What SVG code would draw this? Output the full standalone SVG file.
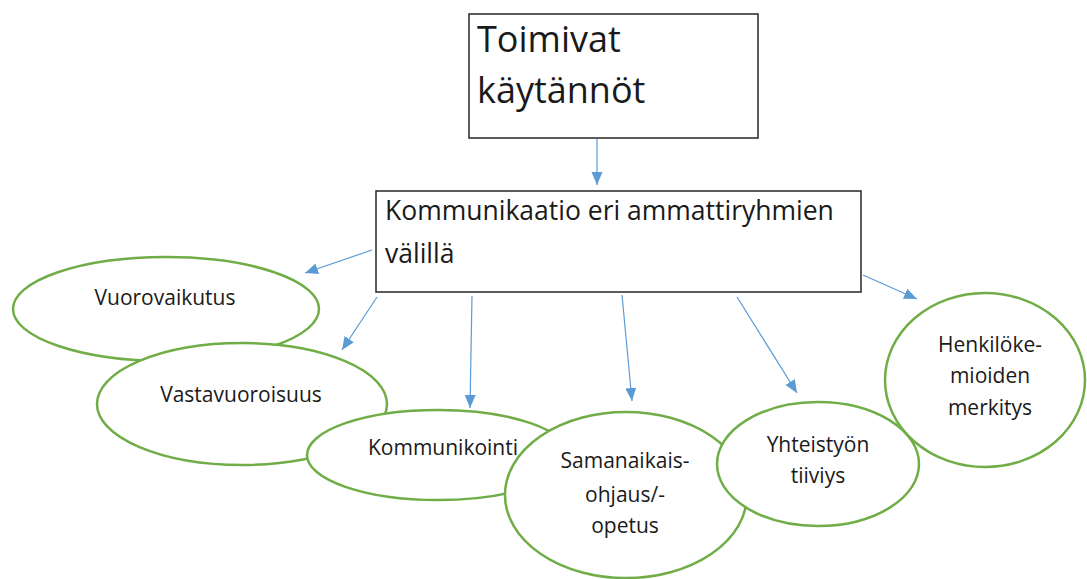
<svg xmlns="http://www.w3.org/2000/svg" width="1087" height="579" viewBox="0 0 1087 579">
<defs>
<style>
.box{fill:#fff;stroke:#262626;stroke-width:1.5}
.ell{fill:#fff;stroke:#70ad47;stroke-width:2.5}
.t{font-family:"Open Sans","Liberation Sans",sans-serif;fill:#1a1a1a}
.e{font-size:21px;text-anchor:middle}
.con{stroke:#5b9bd5;stroke-width:1.2;fill:none;marker-end:url(#ah)}
</style>
<marker id="ah" markerUnits="userSpaceOnUse" markerWidth="13" markerHeight="13" viewBox="0 0 13 13" refX="13" refY="6.5" orient="auto">
<path d="M0,1 L13,6.5 L0,12 Z" fill="#5b9bd5"/>
</marker>
</defs>
<rect width="1087" height="579" fill="#fff"/>
<g id="n-toimivat">
<rect class="box" x="469" y="14" width="289" height="124"/>
<text class="t" x="477" y="52" font-size="36">Toimivat</text>
<text class="t" x="477" y="103" font-size="36">käytännöt</text>
</g>
<g id="n-kommunikaatio">
<rect class="box" x="376" y="191" width="485" height="101"/>
<text class="t" x="385" y="220" font-size="26.5">Kommunikaatio eri ammattiryhmien</text>
<text class="t" x="385" y="263" font-size="26.5">välillä</text>
</g>
<g id="n-vuorovaikutus">
<ellipse class="ell" cx="166" cy="309" rx="153" ry="52"/>
<text class="t e" x="165" y="305">Vuorovaikutus</text>
</g>
<g id="n-vastavuoroisuus">
<ellipse class="ell" cx="242" cy="404" rx="145" ry="61"/>
<text class="t e" x="241" y="402">Vastavuoroisuus</text>
</g>
<g id="n-kommunikointi">
<ellipse class="ell" cx="438" cy="455" rx="131" ry="45"/>
<text class="t e" x="443" y="455">Kommunikointi</text>
</g>
<g id="n-samanaikais">
<ellipse class="ell" cx="626" cy="495" rx="121" ry="83"/>
<text class="t e" x="625" y="468">Samanaikais-</text>
<text class="t e" x="625" y="502">ohjaus/-</text>
<text class="t e" x="625" y="533">opetus</text>
</g>
<g id="n-yhteistyon">
<ellipse class="ell" cx="818" cy="464" rx="101" ry="62"/>
<text class="t e" x="818" y="452">Yhteistyön</text>
<text class="t e" x="818" y="483">tiiviys</text>
</g>
<g id="n-henkilokemioiden">
<ellipse class="ell" cx="985" cy="380" rx="100" ry="87"/>
<text class="t e" x="990" y="352">Henkilöke-</text>
<text class="t e" x="990" y="383">mioiden</text>
<text class="t e" x="990" y="415">merkitys</text>
</g>
<g id="connectors">
<line class="con" x1="597" y1="139" x2="597" y2="185"/>
<line class="con" x1="372" y1="250" x2="305" y2="273"/>
<line class="con" x1="377" y1="297" x2="342" y2="350"/>
<line class="con" x1="472" y1="296" x2="470" y2="408"/>
<line class="con" x1="622" y1="295" x2="632" y2="401"/>
<line class="con" x1="737" y1="297" x2="797" y2="393"/>
<line class="con" x1="863" y1="275" x2="917" y2="299"/>
</g>
</svg>
